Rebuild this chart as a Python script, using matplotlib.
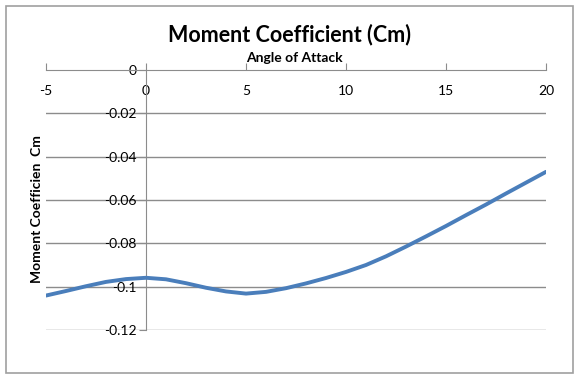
import numpy as np
import matplotlib.pyplot as plt
from matplotlib.patches import Rectangle

# angle of attack (deg) and moment coefficient
alpha = [-5, -4, -3, -2, -1, 0, 1, 2, 3, 4, 5, 6, 7, 8, 9, 10,
         11, 12, 13, 14, 15, 16, 17, 18, 19, 20]
cm = [-0.1041, -0.1020, -0.0998, -0.0978, -0.0965, -0.0959, -0.0966,
      -0.0984, -0.1005, -0.1022, -0.1032, -0.1024, -0.1007, -0.0985,
      -0.0960, -0.0932, -0.0900, -0.0860, -0.0815, -0.0768, -0.0720,
      -0.0670, -0.0621, -0.0570, -0.0520, -0.0470]
x_ticks = [-5, 0, 5, 10, 15, 20]
y_ticks = [0, -0.02, -0.04, -0.06, -0.08, -0.1, -0.12]
y_tick_labels = ["0", "-0.02", "-0.04", "-0.06", "-0.08", "-0.1", "-0.12"]

plt.rcParams['font.family'] = ['Lato', 'DejaVu Sans']
GRID = '#8c8c8c'

fig = plt.figure(figsize=(5.79, 3.8), dpi=100)
fig.patches.append(Rectangle((6 / 579, 1 - 373 / 380), 567 / 579, 367 / 380,
                             transform=fig.transFigure, fill=False,
                             edgecolor='#a0a0a0', linewidth=1.2))

ax = fig.add_axes([46 / 579, 1 - 330 / 380, 500 / 579, 260 / 380])
ax.set_xlim(-5, 20)
ax.set_ylim(-0.12, 0)

# horizontal gridlines
for yv in y_ticks[1:]:
    ax.axhline(yv, color=GRID, linewidth=1, zorder=1)

ax.plot(alpha, cm, color='#4a7ebb', linewidth=2.8, solid_capstyle='round',
        solid_joinstyle='round', zorder=3)

for side in ['bottom', 'right']:
    ax.spines[side].set_visible(False)
ax.spines['top'].set_color(GRID)
ax.spines['left'].set_color(GRID)
ax.spines['left'].set_position(('data', 0))

# x axis along the top: ticks point up, labels sit below the line
ax.xaxis.tick_top()
ax.set_xticks(x_ticks)
ax.set_xticklabels([str(v) for v in x_ticks])
ax.tick_params(axis='x', direction='out', length=5, color=GRID, pad=-16, labelsize=10)
for lbl in ax.get_xticklabels():
    lbl.set_va('top')
ax.set_yticks(y_ticks)
ax.set_yticklabels(y_tick_labels)
ax.tick_params(axis='y', direction='out', length=5, color=GRID, pad=2, labelsize=10)

fig.text(0.5, 1 - 35 / 380, "Moment Coefficient (Cm)", ha='center', va='center',
         fontsize=15.5, fontweight='bold')
fig.text(294 / 579, 1 - 58 / 380, "Angle of Attack", ha='center', va='center',
         fontsize=10, fontweight='bold')
fig.text(37 / 579, 1 - 209 / 380, "Moment Coefficien  Cm", ha='center', va='center',
         rotation=90, fontsize=10, fontweight='bold')

fig.savefig("out.png", dpi=100)
